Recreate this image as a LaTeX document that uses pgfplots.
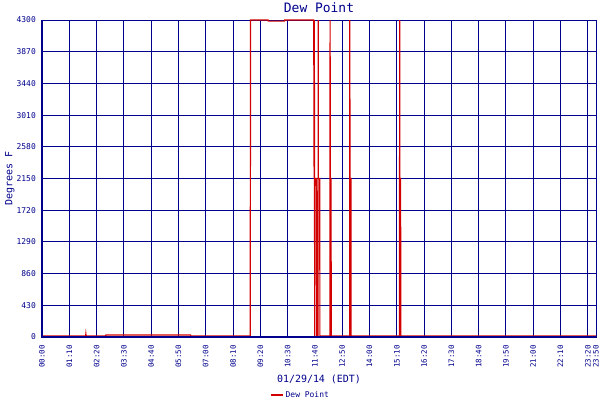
\documentclass[border=0pt]{standalone}
\usepackage{pgfplots}
\pgfplotsset{compat=1.18}
\usepackage{fontspec}
\setmainfont{DejaVu Sans Mono}
\definecolor{navyc}{RGB}{0,0,140}
\definecolor{redc}{RGB}{210,0,0}
\begin{document}
\begin{tikzpicture}
\begin{axis}[
 at={(0,0)}, anchor=south west,
 scale only axis, width=554bp, height=317bp,
 xmin=0, xmax=1421, ymin=0, ymax=4300,
 clip=false,
 xtick={0,70,140,210,280,350,420,490,560,630,700,770,840,910,980,1050,1120,1190,1260,1330,1400,1421},
 xticklabels={00:00,01:10,02:20,03:30,04:40,05:50,07:00,08:10,09:20,10:30,11:40,12:50,14:00,15:10,16:20,17:30,18:40,19:50,21:00,22:10,23:20,23:50},
 ytick={0,430,860,1290,1720,2150,2580,3010,3440,3870,4300},
 yticklabels={0,430,860,1290,1720,2150,2580,3010,3440,3870,4300},
 /pgf/number format/assume math mode=true,
 major tick length=0pt,
 grid=major,
 grid style={navyc, line width=1bp},
 axis line style={navyc, line width=1bp},
 xticklabel style={rotate=90, anchor=east, inner sep=0pt, font=\fontsize{7.5}{8}\selectfont, text=navyc},
 yticklabel style={anchor=east, inner sep=0pt, font=\fontsize{8}{8}\selectfont, text=navyc},
 xticklabel shift=8bp,
 yticklabel shift=6bp,
 title={Dew Point},
 title style={at={(axis description cs:0.5,1.023)}, anchor=base, yshift=-6pt, inner sep=0pt, font=\fontsize{13}{13}\selectfont, text=navyc},
 xlabel={01/29/14 (EDT)},
 xlabel style={at={(axis description cs:0.5,-0.142)}, anchor=base, inner sep=0pt, font=\fontsize{10}{10}\selectfont, text=navyc},
 ylabel={Degrees F},
 ylabel style={at={(axis description cs:-0.0533,0.5)}, anchor=base, inner sep=0pt, font=\fontsize{10}{10}\selectfont, text=navyc},
 legend style={draw=none, fill=none, at={(axis description cs:0.411,-0.1845)}, anchor=west, font=\fontsize{8}{8}\selectfont, text=navyc, inner sep=0pt, outer sep=0pt},
 legend cell align=left,
 legend image code/.code={\draw[redc, line width=2bp] (0bp,0bp) -- (12bp,0bp);},
 after end axis/.code={\draw[navyc, line width=2bp] (rel axis cs:0,1) -- (rel axis cs:0,0) -- (rel axis cs:1,0);},
]
\addplot[redc, line width=1.2bp] coordinates {
(0,14) (112,14) (112.5,40) (113,14) (163,14) (164,28) (381,28) (381.5,14) (534,14)
(535,4300) (580,4300) (580.5,4285) (622,4285) (622.5,4300) (697,4300)
(698,2150) (698.5,4300) (699.5,0) (700,2150) (704,2150) (704.5,0) (705,0) (708,0)
(708.4,4300) (708.8,2150) (712.5,2150) (712.8,0) (713,14) (738.5,14)
(739,4300) (739.4,2150) (741.5,2150) (741.8,0) (742,14) (789,14)
(789.5,4300) (790,2150) (792.5,2150) (792.8,0) (793,14) (917,14)
(917.4,4300) (917.8,2150) (919.8,2150) (920.2,0) (920.5,14) (1421,14)
};
\addlegendentry{Dew Point}
\end{axis}
\pgfresetboundingbox
\path[use as bounding box] (-42bp,-63bp) rectangle (558bp,337bp);
\end{tikzpicture}
\end{document}
